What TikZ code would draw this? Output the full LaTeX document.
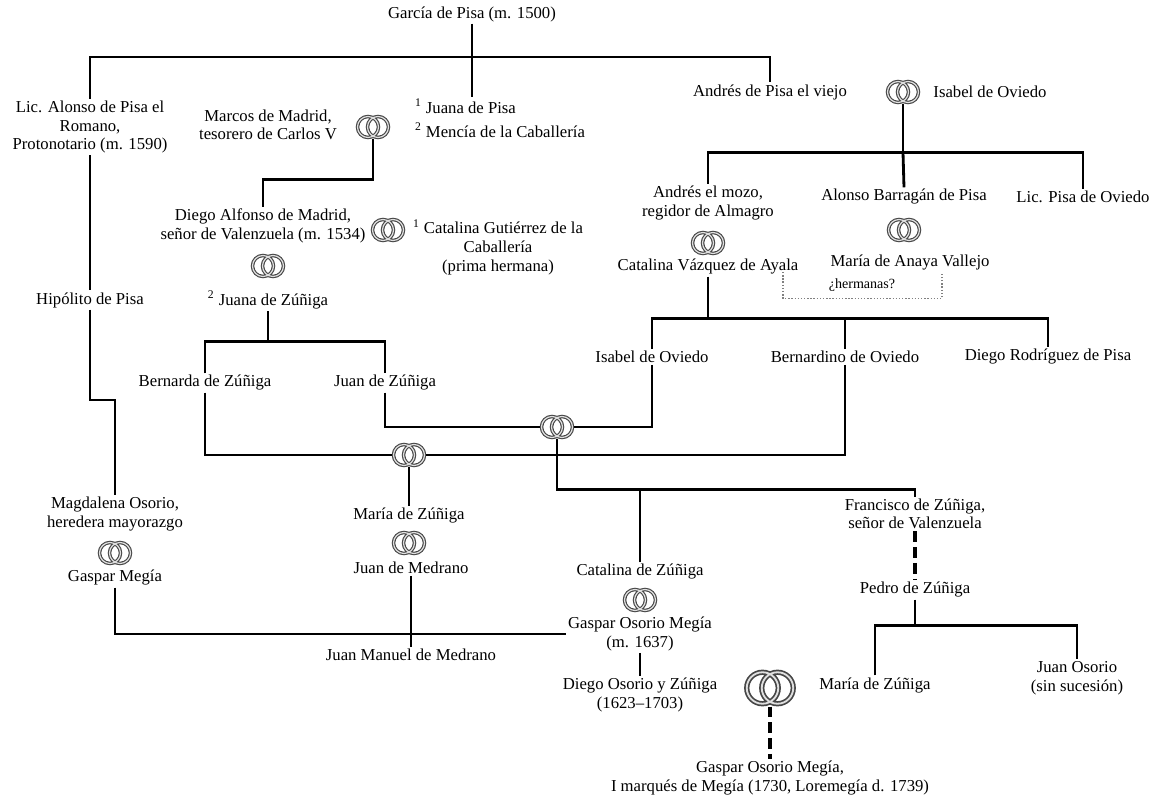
\documentclass[tikz,border=0pt]{standalone}
\usepackage{fontspec}
\setmainfont{Liberation Serif}
\usetikzlibrary{positioning}
\tikzset{
  person/.style={align=center, font=\fontsize{9.5}{10.6}\selectfont, inner sep=1pt},
  tline/.style={line width=1.6pt},
  nline/.style={line width=0.9pt},
  dline/.style={line width=1.8pt, dash pattern=on 6pt off 3pt},
  hline/.style={gray, densely dotted, line width=0.8pt},
  ringbox/.style={minimum width=0.68cm, minimum height=0.48cm, inner sep=0pt},
}
\newcommand{\weds}[3][1]{%
  \node[ringbox, scale=#1] (#2) at (#3) {};
  \draw[gray!55!black, line width=#1*2pt] ([xshift=-#1*0.1cm]#2.center) circle[radius=#1*0.21cm] ([xshift=#1*0.1cm]#2.center) circle[radius=#1*0.21cm];
  \draw[gray!25, line width=#1*0.7pt] ([xshift=-#1*0.1cm]#2.center) circle[radius=#1*0.21cm] ([xshift=#1*0.1cm]#2.center) circle[radius=#1*0.21cm];}

\begin{document}
\begin{tikzpicture}[x=0.02cm, y=-0.02cm]
  \useasboundingbox (0,0) rectangle (1161,800);
  \node[person] (garcia) at (472,14) {García de Pisa (m. 1500)};
  \node[person] (alonso) at (90,127) {Lic. Alonso de Pisa el\\Romano,\\Protonotario (m. 1590)};
  \node[person] (marcos) at (268,125) {Marcos de Madrid,\\tesorero de Carlos V};
  \weds{rmarcos}{373,127}
  \node[person, align=left] (juana) at (500,118) {\textsuperscript{1} Juana de Pisa\\[3pt]\textsuperscript{2} Mencía de la Caballería};
  \node[person] (viejo) at (770,92) {Andrés de Pisa el viejo};
  \weds{rviejo}{903,92}
  \node[person] (isabel) at (990,92) {Isabel de Oviedo};
  \node[person] (mozo) at (708,203) {Andrés el mozo,\\regidor de Almagro};
  \weds{rmozo}{708,243}
  \node[person] (catalina) at (708,267) {Catalina Vázquez de Ayala};
  \node[person] (barragan) at (904,197) {Alonso Barragán de Pisa};
  \weds{rbarragan}{904,230}
  \node[person] (anaya) at (910,263) {María de Anaya Vallejo};
  \node[person] (licpisa) at (1083,197) {Lic. Pisa de Oviedo};
  \node[person, font=\fontsize{8}{9}\selectfont] (hermanas) at (862,285) {¿hermanas?};
  \coordinate (h1) at (783,272);
  \coordinate (h2) at (942,272);
  \node[person] (diego) at (263,226) {Diego Alfonso de Madrid,\\señor de Valenzuela (m. 1534)};
  \weds{rdiego}{388,230}
  \node[person] (catgut) at (498,247) {\textsuperscript{1} Catalina Gutiérrez de la\\Caballería\\(prima hermana)};
  \weds{rjuana}{268,266}
  \node[person] (juanaz) at (268,300) {\textsuperscript{2} Juana de Zúñiga};
  \node[person] (hipolito) at (90,300) {Hipólito de Pisa};
  \node[person] (isabelo) at (652,357) {Isabel de Oviedo};
  \node[person] (bernardino) at (845,357) {Bernardino de Oviedo};
  \node[person] (diegorod) at (1048,357) {Diego Rodríguez de Pisa};
  \node[person] (bernarda) at (205,383) {Bernarda de Zúñiga};
  \node[person] (juanz) at (385,383) {Juan de Zúñiga};
  \weds{rA}{557,427}
  \weds{rB}{409,455}
  \node[person] (magdalena) at (115,514) {Magdalena Osorio,\\heredera mayorazgo};
  \weds{rmag}{115,553}
  \node[person] (gmegia) at (115,578) {Gaspar Megía};
  \node[person] (mariaz) at (409,516) {María de Zúñiga};
  \weds{rmariaz}{409,543}
  \node[person] (medrano) at (411,568) {Juan de Medrano};
  \node[person] (jmm) at (411,655) {Juan Manuel de Medrano};
  \node[person] (catz) at (640,572) {Catalina de Zúñiga};
  \weds{rcatz}{640,600}
  \node[person] (gosorio) at (640,634) {Gaspar Osorio Megía\\(m. 1637)};
  \node[person] (diegoo) at (640,695) {Diego Osorio y Zúñiga\\(1623--1703)};
  \weds[1.5]{rbig}{770,688}
  \node[person] (mariapz) at (875,685) {María de Zúñiga};
  \node[person] (francisco) at (915,514) {Francisco de Zúñiga,\\señor de Valenzuela};
  \node[person] (pedro) at (915,590) {Pedro de Zúñiga};
  \node[person] (juanos) at (1077,678) {Juan Osorio\\(sin sucesión)};
  \node[person] (marques) at (770,778) {Gaspar Osorio Megía,\\I marqués de Megía (1730, Loremegía d. 1739)};
  \coordinate (top) at (472,57);
  \coordinate (hk) at (0,400);

  \draw[tline] (alonso.north) |- (top) -| (viejo.north);
  \draw[tline] (garcia.south) -- (garcia.south |- juana.north);
  \draw[tline] (rmarcos.south) -- ++(0,40) -| (diego.north);
  \draw[tline] (rviejo.south) -- ++(0,48) coordinate (vb);
  \draw[tline] (mozo.north) |- (vb) -| (licpisa.north);
  \draw[tline] (vb) -- (barragan.north);
  \draw[hline] (h1) |- (hermanas.south -| h1) -- ++(0,5) -| (h2);
  \draw[tline] (alonso.south) -- (hipolito.north);
  \draw[tline] (hipolito.south) -- (hipolito.south |- hk) -| (magdalena.north);
  \draw[tline] (juanaz.south) -- ++(0,30) coordinate (jb);
  \draw[tline] (bernarda.north) |- (jb) -| (juanz.north);
  \draw[tline] (catalina.south) -- ++(0,42) coordinate (cb);
  \draw[tline] (isabelo.north) |- (cb) -| (diegorod.north);
  \draw[tline] (bernardino.north) -- (bernardino.north |- cb);
  \draw[tline] (juanz.south) |- (rA.west);
  \draw[tline] (isabelo.south) |- (rA.east);
  \draw[tline] (bernarda.south) |- (rB.west);
  \draw[tline] (bernardino.south) |- (rB.east);
  \draw[nline] (rB.south) -- (mariaz.north);
  \draw[tline] (rA.south) -- ++(0,50) coordinate (ab) -| (francisco.north);
  \draw[nline] (catz.north) -- (catz.north |- ab);
  \draw[tline] (gmegia.south) |- (gosorio.west);
  \draw[nline] (medrano.south) -- (jmm.north);
  \draw[nline] (gosorio.south) -- (diegoo.north);
  \draw[dline] (francisco.south) -- (pedro.north);
  \draw[tline] (pedro.south) -- ++(0,26) coordinate (pb);
  \draw[tline] (mariapz.north) |- (pb) -| (juanos.north);
  \draw[dline] (rbig.south) -- (marques.north);
\end{tikzpicture}
\end{document}
